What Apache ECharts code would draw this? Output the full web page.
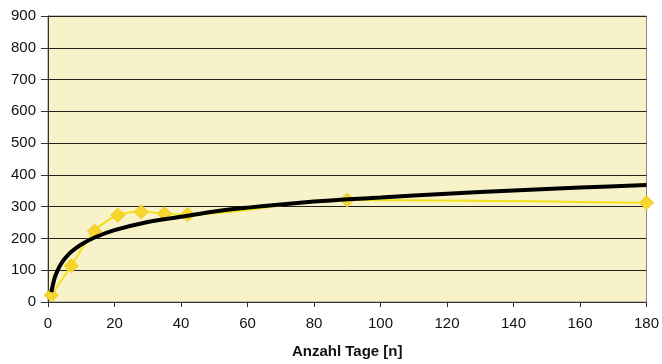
<!DOCTYPE html>
<html><head><meta charset="utf-8">
<script src="https://cdn.jsdelivr.net/npm/echarts@6/dist/echarts.min.js"></script>
<style>html,body{margin:0;padding:0;background:#fff}#c{width:662px;height:364px}</style>
</head><body><div id="c"></div>
<script>
const measuredDays = [1, 7, 14, 21, 28, 35, 42, 90, 180];
const measuredValues = [22, 114, 223, 273, 284, 278, 275, 321, 312];
const trendDays = [1, 2, 3, 4, 5, 7, 10, 14, 20, 30, 40, 50, 60, 70, 80, 90, 100, 120, 140, 160, 180];
const trendValues = [31, 76, 102, 121, 136, 158, 181, 203, 226, 252, 268, 285, 297, 307, 316, 323, 329, 341, 351, 360, 368];
const xTitle = 'Anzahl Tage [n]';

const chart = echarts.init(document.getElementById('c'), null, {renderer: 'canvas'});
const font = 'Liberation Sans, Arial, sans-serif';
chart.setOption({
  animation: false,
  grid: {left: 48, right: 14, top: 16, bottom: 61, show: true, backgroundColor: '#f8f2c8', borderColor: '#888', borderWidth: 1},
  xAxis: {
    type: 'value', min: 0, max: 180, interval: 20,
    name: xTitle, nameLocation: 'middle', nameGap: 42,
    nameTextStyle: {fontFamily: font, fontSize: 15, fontWeight: 'bold', color: '#111'},
    axisLine: {show: true, lineStyle: {color: '#333', width: 1}},
    axisTick: {show: true, length: 5, lineStyle: {color: '#333'}},
    axisLabel: {fontFamily: font, fontSize: 15, color: '#111', margin: 14},
    splitLine: {show: false}
  },
  yAxis: {
    type: 'value', min: 0, max: 900, interval: 100,
    axisLine: {show: true, lineStyle: {color: '#333', width: 1}},
    axisTick: {show: true, length: 7, lineStyle: {color: '#333'}},
    axisLabel: {fontFamily: font, fontSize: 15, color: '#111', margin: 12},
    splitLine: {show: true, lineStyle: {color: '#222', width: 1}}
  },
  series: [
    {
      type: 'line', smooth: 0.35,
      data: measuredDays.map((d, i) => [d, measuredValues[i]]),
      lineStyle: {color: '#f2e21a', width: 2},
      symbol: 'diamond', symbolSize: 14,
      itemStyle: {color: '#f6d62c', borderColor: '#efc81e', borderWidth: 1},
      z: 2
    },
    {
      type: 'line', smooth: 0.3,
      data: trendDays.map((d, i) => [d, trendValues[i]]),
      lineStyle: {color: '#000', width: 4},
      symbol: 'none',
      z: 3
    }
  ]
});
</script></body></html>
